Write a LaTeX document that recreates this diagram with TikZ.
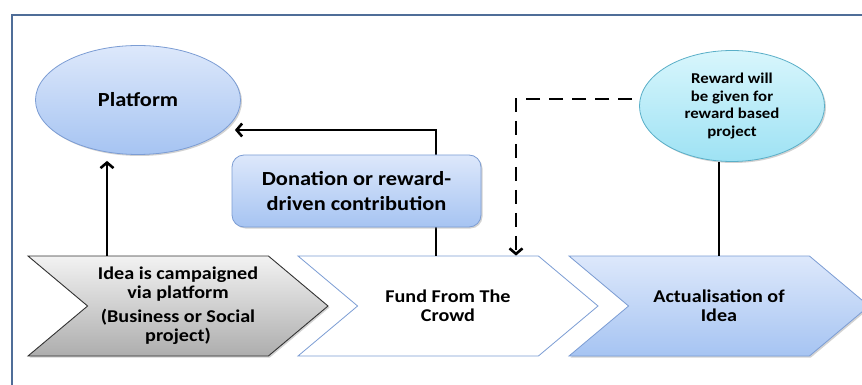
\documentclass[tikz,border=0pt]{standalone}
\usepackage{fontspec}
\setmainfont{Carlito}[FakeStretch=1.12]
\usetikzlibrary{shapes.symbols,shapes.geometric,arrows.meta,shadows}
\definecolor{moldura}{RGB}{79,109,152}
\definecolor{contorno}{RGB}{124,157,212}
\definecolor{azulclaro}{RGB}{221,232,251}
\definecolor{azulmedio}{RGB}{166,196,242}
\definecolor{ciano}{RGB}{90,175,200}
\definecolor{cianoclaro}{RGB}{216,246,252}
\definecolor{cianomedio}{RGB}{158,226,244}
\begin{document}
\begin{tikzpicture}[x=1pt,y=-1pt,
    etapa/.style={signal,signal from=west,signal to=east,signal pointer angle=80,
      minimum width=300pt,minimum height=100pt,inner sep=0pt,align=center,
      font=\bfseries\fontsize{18}{19}\selectfont},
    sombra/.style={drop shadow={shadow xshift=1.5pt,shadow yshift=-1.5pt,opacity=0.35}},
    bolha/.style={ellipse,inner sep=0pt,align=center,sombra},
    azul/.style={draw=contorno,line width=0.8pt,top color=azulclaro,bottom color=azulmedio},
    ligacao/.style={line width=2.6pt,-{Straight Barb[length=5.5pt,width=13pt]}},
    tracejada/.style={ligacao,dash pattern=on 14pt off 9pt}
]
\useasboundingbox (0,0) rectangle (862,385);
\fill[white] (0,0) rectangle (862,385);
\draw[moldura,line width=2pt] (12,15) rectangle (880,400);

\node[etapa,sombra,draw=black!80,line width=0.9pt,top color=black!5,bottom color=black!32] (idea) at (178,306)
  {Idea is campaigned\\via platform\\[5pt](Business or Social\\project)};
\node[etapa,draw=contorno,line width=0.8pt,fill=white] (fund) at (448,306) {Fund From The\\Crowd};
\node[etapa,sombra,azul] (act) at (719,306) {Actualisation of\\Idea};

\node[bolha,azul,minimum width=205pt,minimum height=109pt,font=\bfseries\fontsize{20}{24}\selectfont] (platform) at (138,100) {Platform};
\node[bolha,draw=ciano,line width=0.8pt,top color=cianoclaro,bottom color=cianomedio,
  minimum width=185pt,minimum height=111pt,font=\bfseries\fontsize{15}{17.5}\selectfont] (reward) at (732,106)
  {Reward will\\be given for\\reward based\\project};

\draw[ligacao] ([xshift=-71pt]idea.north) -- ([xshift=-71pt,yshift=-6pt]idea.north |- platform.south);
\draw[ligacao] ([xshift=-12pt]fund.north) |- ([xshift=-6pt,yshift=-30pt]platform.east);
\draw[tracejada] ([xshift=-7pt,yshift=7pt]reward.west) -| ([xshift=68pt]fund.north);
\draw[line width=2.6pt] (reward.south -| act.north) -- (act.north);

\node[rectangle,rounded corners=12pt,azul,sombra,minimum width=249pt,minimum height=72pt,align=center,
  font=\bfseries\fontsize{20}{25}\selectfont] (contrib) at (356.5,191) {Donation or reward-\\driven contribution};
\end{tikzpicture}
\end{document}
